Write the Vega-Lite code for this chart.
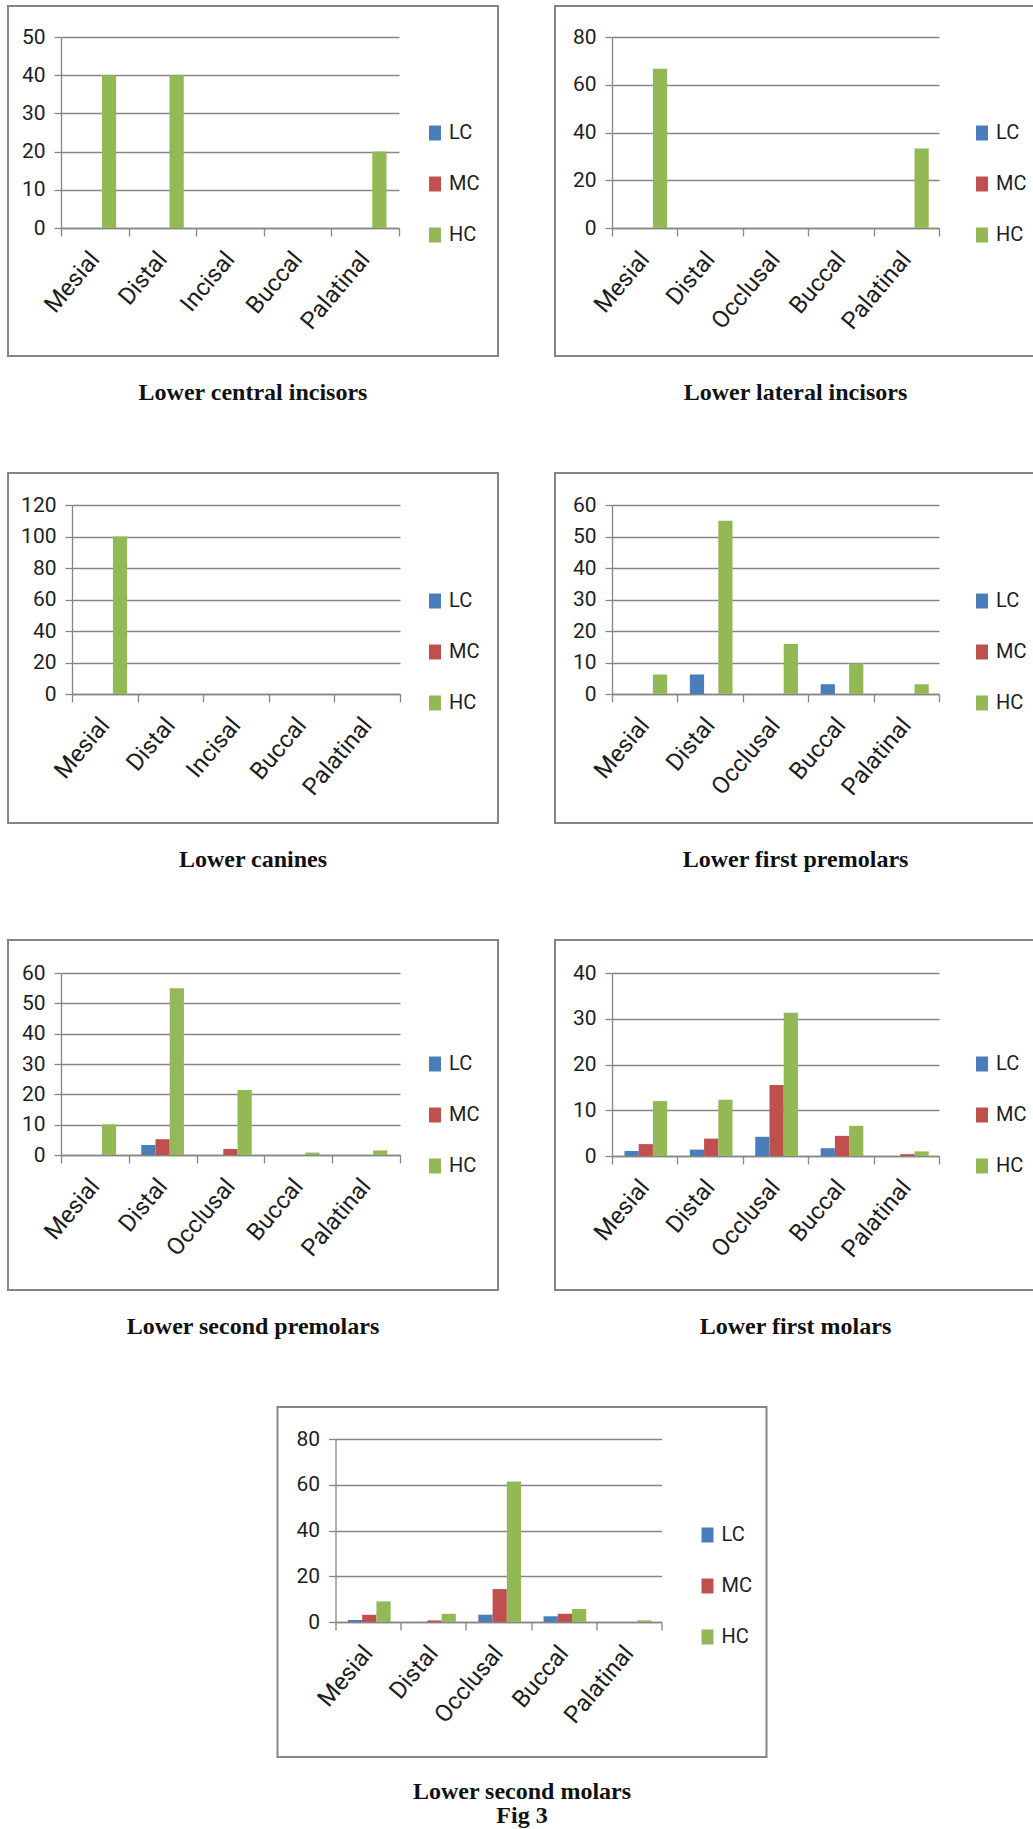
{
  "$schema": "https://vega.github.io/schema/vega-lite/v6.json",
  "background": "white",
  "padding": {"left": -3, "top": 5, "right": 0, "bottom": 0},
  "datasets": {
    "caries": [
      {"tooth": "Lower central incisors", "site": "Mesial", "level": "LC", "value": 0},
      {"tooth": "Lower central incisors", "site": "Mesial", "level": "MC", "value": 0},
      {"tooth": "Lower central incisors", "site": "Mesial", "level": "HC", "value": 40},
      {"tooth": "Lower central incisors", "site": "Distal", "level": "LC", "value": 0},
      {"tooth": "Lower central incisors", "site": "Distal", "level": "MC", "value": 0},
      {"tooth": "Lower central incisors", "site": "Distal", "level": "HC", "value": 40},
      {"tooth": "Lower central incisors", "site": "Incisal", "level": "LC", "value": 0},
      {"tooth": "Lower central incisors", "site": "Incisal", "level": "MC", "value": 0},
      {"tooth": "Lower central incisors", "site": "Incisal", "level": "HC", "value": 0},
      {"tooth": "Lower central incisors", "site": "Buccal", "level": "LC", "value": 0},
      {"tooth": "Lower central incisors", "site": "Buccal", "level": "MC", "value": 0},
      {"tooth": "Lower central incisors", "site": "Buccal", "level": "HC", "value": 0},
      {"tooth": "Lower central incisors", "site": "Palatinal", "level": "LC", "value": 0},
      {"tooth": "Lower central incisors", "site": "Palatinal", "level": "MC", "value": 0},
      {"tooth": "Lower central incisors", "site": "Palatinal", "level": "HC", "value": 20},

      {"tooth": "Lower lateral incisors", "site": "Mesial", "level": "LC", "value": 0},
      {"tooth": "Lower lateral incisors", "site": "Mesial", "level": "MC", "value": 0},
      {"tooth": "Lower lateral incisors", "site": "Mesial", "level": "HC", "value": 66.7},
      {"tooth": "Lower lateral incisors", "site": "Distal", "level": "LC", "value": 0},
      {"tooth": "Lower lateral incisors", "site": "Distal", "level": "MC", "value": 0},
      {"tooth": "Lower lateral incisors", "site": "Distal", "level": "HC", "value": 0},
      {"tooth": "Lower lateral incisors", "site": "Occlusal", "level": "LC", "value": 0},
      {"tooth": "Lower lateral incisors", "site": "Occlusal", "level": "MC", "value": 0},
      {"tooth": "Lower lateral incisors", "site": "Occlusal", "level": "HC", "value": 0},
      {"tooth": "Lower lateral incisors", "site": "Buccal", "level": "LC", "value": 0},
      {"tooth": "Lower lateral incisors", "site": "Buccal", "level": "MC", "value": 0},
      {"tooth": "Lower lateral incisors", "site": "Buccal", "level": "HC", "value": 0},
      {"tooth": "Lower lateral incisors", "site": "Palatinal", "level": "LC", "value": 0},
      {"tooth": "Lower lateral incisors", "site": "Palatinal", "level": "MC", "value": 0},
      {"tooth": "Lower lateral incisors", "site": "Palatinal", "level": "HC", "value": 33.3},

      {"tooth": "Lower canines", "site": "Mesial", "level": "LC", "value": 0},
      {"tooth": "Lower canines", "site": "Mesial", "level": "MC", "value": 0},
      {"tooth": "Lower canines", "site": "Mesial", "level": "HC", "value": 100},
      {"tooth": "Lower canines", "site": "Distal", "level": "LC", "value": 0},
      {"tooth": "Lower canines", "site": "Distal", "level": "MC", "value": 0},
      {"tooth": "Lower canines", "site": "Distal", "level": "HC", "value": 0},
      {"tooth": "Lower canines", "site": "Incisal", "level": "LC", "value": 0},
      {"tooth": "Lower canines", "site": "Incisal", "level": "MC", "value": 0},
      {"tooth": "Lower canines", "site": "Incisal", "level": "HC", "value": 0},
      {"tooth": "Lower canines", "site": "Buccal", "level": "LC", "value": 0},
      {"tooth": "Lower canines", "site": "Buccal", "level": "MC", "value": 0},
      {"tooth": "Lower canines", "site": "Buccal", "level": "HC", "value": 0},
      {"tooth": "Lower canines", "site": "Palatinal", "level": "LC", "value": 0},
      {"tooth": "Lower canines", "site": "Palatinal", "level": "MC", "value": 0},
      {"tooth": "Lower canines", "site": "Palatinal", "level": "HC", "value": 0},

      {"tooth": "Lower first premolars", "site": "Mesial", "level": "LC", "value": 0},
      {"tooth": "Lower first premolars", "site": "Mesial", "level": "MC", "value": 0},
      {"tooth": "Lower first premolars", "site": "Mesial", "level": "HC", "value": 6.2},
      {"tooth": "Lower first premolars", "site": "Distal", "level": "LC", "value": 6.2},
      {"tooth": "Lower first premolars", "site": "Distal", "level": "MC", "value": 0},
      {"tooth": "Lower first premolars", "site": "Distal", "level": "HC", "value": 55},
      {"tooth": "Lower first premolars", "site": "Occlusal", "level": "LC", "value": 0},
      {"tooth": "Lower first premolars", "site": "Occlusal", "level": "MC", "value": 0},
      {"tooth": "Lower first premolars", "site": "Occlusal", "level": "HC", "value": 15.9},
      {"tooth": "Lower first premolars", "site": "Buccal", "level": "LC", "value": 3.1},
      {"tooth": "Lower first premolars", "site": "Buccal", "level": "MC", "value": 0},
      {"tooth": "Lower first premolars", "site": "Buccal", "level": "HC", "value": 9.7},
      {"tooth": "Lower first premolars", "site": "Palatinal", "level": "LC", "value": 0},
      {"tooth": "Lower first premolars", "site": "Palatinal", "level": "MC", "value": 0},
      {"tooth": "Lower first premolars", "site": "Palatinal", "level": "HC", "value": 3.1},

      {"tooth": "Lower second premolars", "site": "Mesial", "level": "LC", "value": 0},
      {"tooth": "Lower second premolars", "site": "Mesial", "level": "MC", "value": 0},
      {"tooth": "Lower second premolars", "site": "Mesial", "level": "HC", "value": 10.1},
      {"tooth": "Lower second premolars", "site": "Distal", "level": "LC", "value": 3.3},
      {"tooth": "Lower second premolars", "site": "Distal", "level": "MC", "value": 5.2},
      {"tooth": "Lower second premolars", "site": "Distal", "level": "HC", "value": 55},
      {"tooth": "Lower second premolars", "site": "Occlusal", "level": "LC", "value": 0},
      {"tooth": "Lower second premolars", "site": "Occlusal", "level": "MC", "value": 2},
      {"tooth": "Lower second premolars", "site": "Occlusal", "level": "HC", "value": 21.4},
      {"tooth": "Lower second premolars", "site": "Buccal", "level": "LC", "value": 0},
      {"tooth": "Lower second premolars", "site": "Buccal", "level": "MC", "value": 0},
      {"tooth": "Lower second premolars", "site": "Buccal", "level": "HC", "value": 0.8},
      {"tooth": "Lower second premolars", "site": "Palatinal", "level": "LC", "value": 0},
      {"tooth": "Lower second premolars", "site": "Palatinal", "level": "MC", "value": 0},
      {"tooth": "Lower second premolars", "site": "Palatinal", "level": "HC", "value": 1.5},

      {"tooth": "Lower first molars", "site": "Mesial", "level": "LC", "value": 1.1},
      {"tooth": "Lower first molars", "site": "Mesial", "level": "MC", "value": 2.6},
      {"tooth": "Lower first molars", "site": "Mesial", "level": "HC", "value": 12},
      {"tooth": "Lower first molars", "site": "Distal", "level": "LC", "value": 1.4},
      {"tooth": "Lower first molars", "site": "Distal", "level": "MC", "value": 3.8},
      {"tooth": "Lower first molars", "site": "Distal", "level": "HC", "value": 12.3},
      {"tooth": "Lower first molars", "site": "Occlusal", "level": "LC", "value": 4.2},
      {"tooth": "Lower first molars", "site": "Occlusal", "level": "MC", "value": 15.5},
      {"tooth": "Lower first molars", "site": "Occlusal", "level": "HC", "value": 31.3},
      {"tooth": "Lower first molars", "site": "Buccal", "level": "LC", "value": 1.7},
      {"tooth": "Lower first molars", "site": "Buccal", "level": "MC", "value": 4.4},
      {"tooth": "Lower first molars", "site": "Buccal", "level": "HC", "value": 6.6},
      {"tooth": "Lower first molars", "site": "Palatinal", "level": "LC", "value": 0},
      {"tooth": "Lower first molars", "site": "Palatinal", "level": "MC", "value": 0.4},
      {"tooth": "Lower first molars", "site": "Palatinal", "level": "HC", "value": 1},

      {"tooth": "Lower second molars", "site": "Mesial", "level": "LC", "value": 0.9},
      {"tooth": "Lower second molars", "site": "Mesial", "level": "MC", "value": 3.2},
      {"tooth": "Lower second molars", "site": "Mesial", "level": "HC", "value": 9},
      {"tooth": "Lower second molars", "site": "Distal", "level": "LC", "value": 0},
      {"tooth": "Lower second molars", "site": "Distal", "level": "MC", "value": 0.7},
      {"tooth": "Lower second molars", "site": "Distal", "level": "HC", "value": 3.6},
      {"tooth": "Lower second molars", "site": "Occlusal", "level": "LC", "value": 3.2},
      {"tooth": "Lower second molars", "site": "Occlusal", "level": "MC", "value": 14.4},
      {"tooth": "Lower second molars", "site": "Occlusal", "level": "HC", "value": 61.4},
      {"tooth": "Lower second molars", "site": "Buccal", "level": "LC", "value": 2.5},
      {"tooth": "Lower second molars", "site": "Buccal", "level": "MC", "value": 3.6},
      {"tooth": "Lower second molars", "site": "Buccal", "level": "HC", "value": 5.7},
      {"tooth": "Lower second molars", "site": "Palatinal", "level": "LC", "value": 0},
      {"tooth": "Lower second molars", "site": "Palatinal", "level": "MC", "value": 0},
      {"tooth": "Lower second molars", "site": "Palatinal", "level": "HC", "value": 0.7}
    ]
  },
  "config": {
    "view": {"stroke": "#858585", "strokeWidth": 2},
    "font": "Roboto",
    "axis": {
      "title": null,
      "domainColor": "#868686",
      "tickColor": "#868686",
      "gridColor": "#868686",
      "gridOpacity": 1,
      "domainWidth": 1.3,
      "tickWidth": 1.3,
      "gridWidth": 1.3,
      "labelColor": "#1e1e1e"
    },
    "axisY": {"labelFont": "Roboto", "labelFontSize": 21, "tickSize": 7, "labelPadding": 9, "grid": true},
    "axisX": {"labelFont": "Roboto", "labelFontSize": 24, "labelAngle": -50, "tickSize": 8, "tickBand": "extent", "grid": false, "labelPadding": 19},
    "legend": {
      "title": null,
      "orient": "none",
      "symbolType": "M-0.8,-1H0.8V1H-0.8Z",
      "symbolSize": 225,
      "symbolStrokeWidth": 0,
      "labelFont": "Roboto",
      "labelFontSize": 20,
      "labelColor": "#1e1e1e",
      "labelOffset": 4,
      "rowPadding": 31
    },
    "title": {"font": "Liberation Serif", "fontSize": 24, "fontWeight": "bold", "color": "#111111", "orient": "bottom", "offset": 25, "lineHeight": 24},
    "bar": {"stroke": null}
  },
  "spacing": 66,
  "center": true,
  "resolve": {"scale": {"color": "independent"}, "legend": {"color": "independent"}},
  "vconcat": [
    {
      "spacing": 45,
      "resolve": {"scale": {"color": "independent"}, "legend": {"color": "independent"}},
      "hconcat": [
        {
          "width": 490, "height": 350,
          "title": "Lower central incisors",
          "data": {"name": "caries"},
          "transform": [{"filter": "datum.tooth === 'Lower central incisors'"}],
          "mark": "bar",
          "encoding": {
            "x": {"field": "site", "type": "nominal", "scale": {"domain": ["Mesial", "Distal", "Incisal", "Buccal", "Palatinal"], "range": [53, 391], "paddingInner": 0, "paddingOuter": 0}, "axis": {"offset": -128}},
            "xOffset": {"field": "level", "type": "nominal", "scale": {"domain": ["LC", "MC", "HC"], "paddingInner": 0, "paddingOuter": 0.875}},
            "y": {"field": "value", "type": "quantitative", "scale": {"domain": [0, 50], "range": [222, 31], "nice": false}, "axis": {"values": [0, 10, 20, 30, 40, 50], "offset": -53}},
            "color": {"field": "level", "type": "nominal", "scale": {"domain": ["LC", "MC", "HC"], "range": ["#4a7ebb", "#c0504d", "#93b956"]}, "legend": {"legendX": 417, "legendY": 117}}
          }
        },
        {
          "width": 481, "height": 350,
          "title": "Lower lateral incisors",
          "data": {"name": "caries"},
          "transform": [{"filter": "datum.tooth === 'Lower lateral incisors'"}],
          "mark": "bar",
          "encoding": {
            "x": {"field": "site", "type": "nominal", "scale": {"domain": ["Mesial", "Distal", "Occlusal", "Buccal", "Palatinal"], "range": [57, 384], "paddingInner": 0, "paddingOuter": 0}, "axis": {"offset": -128}},
            "xOffset": {"field": "level", "type": "nominal", "scale": {"domain": ["LC", "MC", "HC"], "paddingInner": 0, "paddingOuter": 0.875}},
            "y": {"field": "value", "type": "quantitative", "scale": {"domain": [0, 80], "range": [222, 31], "nice": false}, "axis": {"values": [0, 20, 40, 60, 80], "offset": -57}},
            "color": {"field": "level", "type": "nominal", "scale": {"domain": ["LC", "MC", "HC"], "range": ["#4a7ebb", "#c0504d", "#93b956"]}, "legend": {"legendX": 417, "legendY": 117}}
          }
        }
      ]
    },
    {
      "spacing": 45,
      "resolve": {"scale": {"color": "independent"}, "legend": {"color": "independent"}},
      "hconcat": [
        {
          "width": 490, "height": 350,
          "title": "Lower canines",
          "data": {"name": "caries"},
          "transform": [{"filter": "datum.tooth === 'Lower canines'"}],
          "mark": "bar",
          "encoding": {
            "x": {"field": "site", "type": "nominal", "scale": {"domain": ["Mesial", "Distal", "Incisal", "Buccal", "Palatinal"], "range": [64, 392], "paddingInner": 0, "paddingOuter": 0}, "axis": {"offset": -129}},
            "xOffset": {"field": "level", "type": "nominal", "scale": {"domain": ["LC", "MC", "HC"], "paddingInner": 0, "paddingOuter": 0.875}},
            "y": {"field": "value", "type": "quantitative", "scale": {"domain": [0, 120], "range": [221, 32], "nice": false}, "axis": {"values": [0, 20, 40, 60, 80, 100, 120], "offset": -64}},
            "color": {"field": "level", "type": "nominal", "scale": {"domain": ["LC", "MC", "HC"], "range": ["#4a7ebb", "#c0504d", "#93b956"]}, "legend": {"legendX": 417, "legendY": 118}}
          }
        },
        {
          "width": 481, "height": 350,
          "title": "Lower first premolars",
          "data": {"name": "caries"},
          "transform": [{"filter": "datum.tooth === 'Lower first premolars'"}],
          "mark": "bar",
          "encoding": {
            "x": {"field": "site", "type": "nominal", "scale": {"domain": ["Mesial", "Distal", "Occlusal", "Buccal", "Palatinal"], "range": [57, 384], "paddingInner": 0, "paddingOuter": 0}, "axis": {"offset": -129}},
            "xOffset": {"field": "level", "type": "nominal", "scale": {"domain": ["LC", "MC", "HC"], "paddingInner": 0, "paddingOuter": 0.875}},
            "y": {"field": "value", "type": "quantitative", "scale": {"domain": [0, 60], "range": [221, 32], "nice": false}, "axis": {"values": [0, 10, 20, 30, 40, 50, 60], "offset": -57}},
            "color": {"field": "level", "type": "nominal", "scale": {"domain": ["LC", "MC", "HC"], "range": ["#4a7ebb", "#c0504d", "#93b956"]}, "legend": {"legendX": 417, "legendY": 118}}
          }
        }
      ]
    },
    {
      "spacing": 45,
      "resolve": {"scale": {"color": "independent"}, "legend": {"color": "independent"}},
      "hconcat": [
        {
          "width": 490, "height": 350,
          "title": "Lower second premolars",
          "data": {"name": "caries"},
          "transform": [{"filter": "datum.tooth === 'Lower second premolars'"}],
          "mark": "bar",
          "encoding": {
            "x": {"field": "site", "type": "nominal", "scale": {"domain": ["Mesial", "Distal", "Occlusal", "Buccal", "Palatinal"], "range": [53, 392], "paddingInner": 0, "paddingOuter": 0}, "axis": {"offset": -135}},
            "xOffset": {"field": "level", "type": "nominal", "scale": {"domain": ["LC", "MC", "HC"], "paddingInner": 0, "paddingOuter": 0.875}},
            "y": {"field": "value", "type": "quantitative", "scale": {"domain": [0, 60], "range": [215, 33], "nice": false}, "axis": {"values": [0, 10, 20, 30, 40, 50, 60], "offset": -53}},
            "color": {"field": "level", "type": "nominal", "scale": {"domain": ["LC", "MC", "HC"], "range": ["#4a7ebb", "#c0504d", "#93b956"]}, "legend": {"legendX": 417, "legendY": 114}}
          }
        },
        {
          "width": 481, "height": 350,
          "title": "Lower first molars",
          "data": {"name": "caries"},
          "transform": [{"filter": "datum.tooth === 'Lower first molars'"}],
          "mark": "bar",
          "encoding": {
            "x": {"field": "site", "type": "nominal", "scale": {"domain": ["Mesial", "Distal", "Occlusal", "Buccal", "Palatinal"], "range": [57, 384], "paddingInner": 0, "paddingOuter": 0}, "axis": {"offset": -134}},
            "xOffset": {"field": "level", "type": "nominal", "scale": {"domain": ["LC", "MC", "HC"], "paddingInner": 0, "paddingOuter": 0.875}},
            "y": {"field": "value", "type": "quantitative", "scale": {"domain": [0, 40], "range": [216, 33], "nice": false}, "axis": {"values": [0, 10, 20, 30, 40], "offset": -57}},
            "color": {"field": "level", "type": "nominal", "scale": {"domain": ["LC", "MC", "HC"], "range": ["#4a7ebb", "#c0504d", "#93b956"]}, "legend": {"legendX": 417, "legendY": 114}}
          }
        }
      ]
    },
    {
      "width": 489, "height": 350,
      "title": {"text": ["Lower second molars", "Fig 3"], "offset": 23, "lineHeight": 24},
      "data": {"name": "caries"},
      "transform": [{"filter": "datum.tooth === 'Lower second molars'"}],
      "mark": "bar",
      "encoding": {
        "x": {"field": "site", "type": "nominal", "scale": {"domain": ["Mesial", "Distal", "Occlusal", "Buccal", "Palatinal"], "range": [58, 384], "paddingInner": 0, "paddingOuter": 0}, "axis": {"offset": -135}},
        "xOffset": {"field": "level", "type": "nominal", "scale": {"domain": ["LC", "MC", "HC"], "paddingInner": 0, "paddingOuter": 0.875}},
        "y": {"field": "value", "type": "quantitative", "scale": {"domain": [0, 80], "range": [215, 32], "nice": false}, "axis": {"values": [0, 20, 40, 60, 80], "offset": -58}},
        "color": {"field": "level", "type": "nominal", "scale": {"domain": ["LC", "MC", "HC"], "range": ["#4a7ebb", "#c0504d", "#93b956"]}, "legend": {"legendX": 420, "legendY": 118}}
      }
    }
  ]
}
